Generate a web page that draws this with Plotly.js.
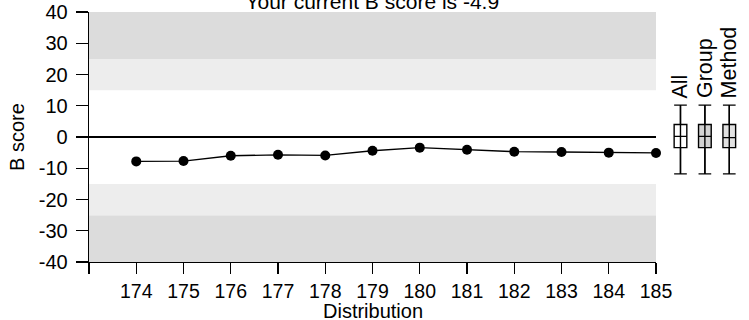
<!DOCTYPE html>
<html><head><meta charset="utf-8">
<script src="https://cdn.plot.ly/plotly-3.0.1.min.js"></script>
<style>html,body{margin:0;padding:0;background:#fff}</style>
</head><body>
<div id="chart" style="width:749px;height:320px"></div>
<script>
// ---- data ----
const distributions = [174, 175, 176, 177, 178, 179, 180, 181, 182, 183, 184, 185];
const bScores = [-7.8, -7.7, -6.0, -5.7, -5.9, -4.4, -3.4, -4.1, -4.7, -4.8, -5.0, -5.1];
const xTickValues = [173, 174, 175, 176, 177, 178, 179, 180, 181, 182, 183, 184, 185];
const xTickLabels = ['', '174', '175', '176', '177', '178', '179', '180', '181', '182', '183', '184', '185'];
const yTickValues = [-40, -30, -20, -10, 0, 10, 20, 30, 40];
const yTickLabels = ['-40', '-30', '-20', '-10', '0', '10', '20', '30', '40'];
const boxGroups = ['All', 'Group', 'Method'];
const boxLower = [-11.8, -11.8, -11.8];
const boxQ1 = [-3.4, -3.4, -3.4];
const boxMedian = [0.2, 0.2, -0.2];
const boxQ3 = [4.0, 4.0, 4.0];
const boxUpper = [10.2, 10.2, 10.2];
const boxFills = ['#ffffff', '#d3d3d3', '#e2e2e2'];
const bandsDark = [[25, 40], [-40, -25]];
const bandsLight = [[15, 25], [-25, -15]];
const chartTitle = 'Your current B score is -4.9';
const xTitle = 'Distribution';
const yTitle = 'B score';

// ---- traces ----
const FONT = 'Liberation Sans, Arial, sans-serif';
const traces = [];
traces.push({
  type: 'scatter', mode: 'lines+markers',
  x: distributions, y: bScores,
  line: {color: '#000', width: 1.3},
  marker: {color: '#000', size: 10},
  cliponaxis: false, showlegend: false, hoverinfo: 'skip'
});
boxGroups.forEach((g, i) => {
  traces.push({
    type: 'box', xaxis: 'x2', yaxis: 'y2',
    x: [g], q1: [boxQ1[i]], median: [boxMedian[i]], q3: [boxQ3[i]],
    lowerfence: [boxLower[i]], upperfence: [boxUpper[i]],
    fillcolor: boxFills[i], line: {color: '#000', width: 1.4},
    width: 0.52, whiskerwidth: 1, boxpoints: false,
    showlegend: false, hoverinfo: 'skip'
  });
});
const vx = [], vy = [];
boxGroups.forEach((g, i) => { vx.push(g, g, null); vy.push(boxLower[i], boxUpper[i], null); });
traces.push({
  type: 'scatter', mode: 'lines', xaxis: 'x2', yaxis: 'y2',
  x: vx, y: vy, line: {color: '#000', width: 1.4},
  showlegend: false, hoverinfo: 'skip', cliponaxis: false
});

const shapes = [];
bandsDark.forEach(b => shapes.push({type: 'rect', layer: 'below', xref: 'x', yref: 'y',
  x0: xTickValues[0], x1: xTickValues[xTickValues.length - 1], y0: b[0], y1: b[1],
  fillcolor: '#dcdcdc', line: {width: 0}}));
bandsLight.forEach(b => shapes.push({type: 'rect', layer: 'below', xref: 'x', yref: 'y',
  x0: xTickValues[0], x1: xTickValues[xTickValues.length - 1], y0: b[0], y1: b[1],
  fillcolor: '#ededed', line: {width: 0}}));

const annotations = boxGroups.map((g, i) => ({
  text: g, x: g, xref: 'x2', y: boxUpper[i], yref: 'y2',
  textangle: -90, xanchor: 'center', yanchor: 'bottom', yshift: 5,
  showarrow: false, font: {family: FONT, size: 21.5, color: '#000'}
}));
// x-axis title placed as an annotation under the tick labels
annotations.push({
  text: xTitle, xref: 'x', x: (xTickValues[0] + xTickValues[xTickValues.length - 1]) / 2,
  yref: 'paper', y: 0, yanchor: 'top', yshift: -36, xanchor: 'center',
  showarrow: false, font: {family: FONT, size: 20, color: '#000'}
});

const layout = {
  width: 749, height: 320,
  margin: {l: 89, r: 0, t: 12, b: 58},
  paper_bgcolor: '#fff', plot_bgcolor: 'rgba(0,0,0,0)',
  font: {family: FONT, color: '#000', size: 19},
  title: {text: chartTitle, font: {family: FONT, size: 21, color: '#000'},
          x: 0.497, xanchor: 'center', y: 0.995, yref: 'container', yanchor: 'middle'},
  xaxis: {
    domain: [0, 0.8591], range: [173, 185], anchor: 'y',
    tickmode: 'array', tickvals: xTickValues, ticktext: xTickLabels,
    ticks: 'outside', ticklen: 11, tickwidth: 1.3, tickcolor: '#000',
    showline: true, linecolor: '#000', linewidth: 1.3,
    showgrid: false, zeroline: false, automargin: false,
    tickfont: {family: FONT, size: 19.5, color: '#000'}
  },
  yaxis: {
    domain: [0, 1], range: [-40, 40], anchor: 'x',
    tickmode: 'array', tickvals: yTickValues, ticktext: yTickLabels,
    ticks: 'outside', ticklen: 12, tickwidth: 1.3, tickcolor: '#000',
    showline: true, linecolor: '#000', linewidth: 1.3,
    showgrid: false, zeroline: true, zerolinecolor: '#000', zerolinewidth: 1.2,
    automargin: false, ticklabelstandoff: 4,
    tickfont: {family: FONT, size: 20, color: '#000'},
    title: {text: yTitle, font: {family: FONT, size: 20, color: '#000'}, standoff: 8}
  },
  xaxis2: {domain: [0.8777, 0.9886], type: 'category', categoryarray: boxGroups,
           range: [-0.5, 2.5], anchor: 'y2', visible: false},
  yaxis2: {domain: [0, 1], range: [-40, 40], anchor: 'x2', visible: false},
  shapes: shapes,
  annotations: annotations,
  showlegend: false
};

Plotly.newPlot('chart', traces, layout, {staticPlot: true, displayModeBar: false});
</script>
</body></html>
